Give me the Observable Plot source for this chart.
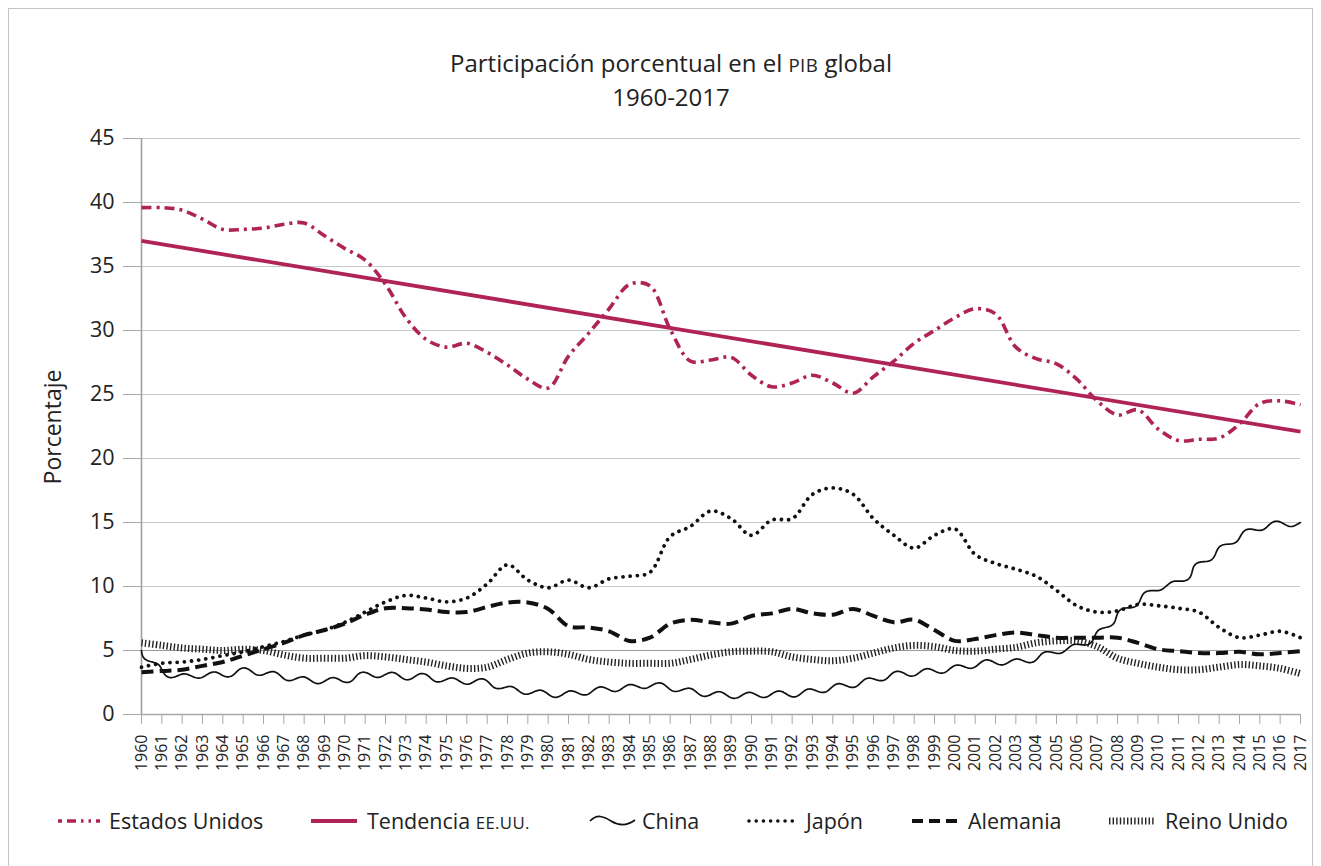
<!DOCTYPE html>
<html><head><meta charset="utf-8">
<script src="https://cdn.jsdelivr.net/npm/d3@7"></script>
<script src="https://cdn.jsdelivr.net/npm/@observablehq/plot@0.6"></script>
<style>
body{margin:0;background:#fff;font-family:"Open Sans",sans-serif;color:#222;}
#wrap{position:relative;width:1321px;height:866px;overflow:hidden;background:#fff;}
#frame{position:absolute;left:8px;top:8px;width:1305px;height:900px;border:1px solid #c4c4c4;box-sizing:border-box;}
#title{position:absolute;left:0;width:1342px;top:47px;text-align:center;font-size:24px;line-height:32px;color:#222;}
.sc{font-size:0.78em;letter-spacing:0.02em;}
#chart{position:absolute;left:0;top:120px;}
#ylab{position:absolute;left:52px;top:427px;transform:translate(-50%,-50%) rotate(-90deg);font-size:23px;white-space:nowrap;}
.sw{position:absolute;top:811px;}
.lt{position:absolute;top:806px;font-size:21.5px;line-height:30px;white-space:nowrap;}
</style></head>
<body>
<div id="wrap">
  <div id="frame"></div>
  <div id="title">Participación porcentual en el <span class="sc">PIB</span> global<br>1960-2017</div>
  <div id="ylab">Porcentaje</div>
  <div id="chart"></div>
  <div id="legend"></div>
</div>
<script>
// ---- data ----
const years = [1960,1961,1962,1963,1964,1965,1966,1967,1968,1969,1970,1971,1972,1973,1974,1975,1976,1977,1978,1979,1980,1981,1982,1983,1984,1985,1986,1987,1988,1989,1990,1991,1992,1993,1994,1995,1996,1997,1998,1999,2000,2001,2002,2003,2004,2005,2006,2007,2008,2009,2010,2011,2012,2013,2014,2015,2016,2017];
const estadosUnidos = [39.6,39.6,39.4,38.7,37.9,37.9,38.0,38.3,38.4,37.4, 36.4,35.5,33.6,31.0,29.3,28.7,29.0,28.3,27.3,26.2, 25.5,28.0,29.8,31.7,33.6,33.5,30.1,27.6,27.7,27.9, 26.5,25.6,25.9,26.5,25.9,25.1,26.4,27.6,29.0,30.0, 31.0,31.7,31.3,28.7,27.8,27.4,26.2,24.5,23.4,23.8, 22.3,21.4,21.5,21.6,22.7,24.3,24.5,24.2];
const china = [5.0,3.4,2.95,3.1,3.1,3.4,3.25,2.95,2.7,2.65, 2.7,3.1,3.1,2.95,2.95,2.65,2.6,2.5,2.0,1.8, 1.6,1.6,1.8,2.0,2.1,2.3,2.1,1.8,1.6,1.5, 1.5,1.6,1.6,1.8,2.1,2.35,2.7,3.1,3.25,3.4, 3.6,3.9,4.1,4.1,4.4,4.95,5.3,6.2,7.7,8.85, 9.9,10.3,11.65,12.8,13.9,14.6,14.9,14.9];
const japon = [3.7,4.0,4.1,4.3,4.6,4.9,5.3,5.7,6.2,6.6, 7.2,8.0,8.8,9.3,9.1,8.8,9.1,10.2,11.7,10.5, 9.9,10.5,9.9,10.6,10.8,11.1,13.9,14.7,15.9,15.3, 14.0,15.2,15.3,17.2,17.7,17.2,15.3,14.0,13.0,14.0, 14.5,12.5,11.8,11.35,10.8,9.7,8.5,8.0,8.1,8.6, 8.5,8.3,8.0,6.8,6.0,6.2,6.5,6.0];
const alemania = [3.3,3.4,3.5,3.8,4.1,4.6,5.1,5.6,6.2,6.6, 7.1,7.8,8.3,8.3,8.2,8.0,8.0,8.4,8.75,8.75, 8.25,6.9,6.8,6.5,5.75,6.0,7.1,7.4,7.2,7.1, 7.7,7.9,8.25,7.9,7.8,8.25,7.7,7.2,7.4,6.6, 5.75,5.9,6.2,6.4,6.2,6.0,6.0,6.0,6.0,5.6, 5.1,4.95,4.8,4.8,4.9,4.7,4.8,4.95];
const reinoUnido = [5.6,5.4,5.2,5.1,5.0,5.1,5.0,4.65,4.4,4.4, 4.4,4.6,4.5,4.3,4.1,3.8,3.6,3.7,4.3,4.8, 4.9,4.7,4.3,4.1,4.0,4.0,4.0,4.3,4.65,4.9, 4.95,4.9,4.5,4.3,4.2,4.4,4.8,5.2,5.4,5.3, 5.0,4.95,5.1,5.25,5.6,5.75,5.75,5.3,4.4,4.0, 3.7,3.5,3.5,3.7,3.9,3.8,3.6,3.2];
const tendenciaYears = [1960, 2017];
const tendenciaValues = [37.0, 22.1];
const yTicks = [0,5,10,15,20,25,30,35,40,45];

const PINK = "#b02356";
const rows = (vals, xs = years) => xs.map((y, i) => ({year: y, value: vals[i]}));

const chart = Plot.plot({
  width: 1321, height: 680,
  marginLeft: 141, marginRight: 21, marginTop: 18, marginBottom: 86,
  style: {fontFamily: '"Open Sans", sans-serif', color: "#222", background: "transparent", overflow: "visible"},
  x: {domain: [1960, 2017]},
  y: {domain: [0, 45]},
  marks: [
    Plot.gridY(yTicks, {stroke: "#c9c9c9", strokeOpacity: 1, strokeWidth: 1}),
    Plot.ruleY([5], {stroke: "#9a9a9a", strokeWidth: 1.2}),
    Plot.axisY({ticks: yTicks, tickSize: 18, tickPadding: 9, fontSize: 21.5, stroke: "#a8a8a8", strokeOpacity: 1, label: null, tickFormat: d => String(d)}),
    Plot.axisX({ticks: years, tickSize: 10, tickPadding: 10, tickRotate: -90, fontSize: 16, stroke: "#a8a8a8", strokeOpacity: 1, label: null, tickFormat: d => String(d)}),
    Plot.ruleX([1960], {stroke: "#a0a0a0", strokeWidth: 1.6}),
    Plot.ruleY([0], {stroke: "#a8a8a8", strokeWidth: 1.6}),
    Plot.line(rows(reinoUnido), {x: "year", y: "value", curve: "catmull-rom", stroke: "#222", strokeWidth: 7, strokeLinecap: "butt", strokeDasharray: "1.4,2.2"}),
    Plot.line(rows(alemania), {x: "year", y: "value", curve: "catmull-rom", stroke: "#111", strokeWidth: 4, strokeLinecap: "butt", strokeDasharray: "12,6"}),
    Plot.line(rows(japon), {x: "year", y: "value", curve: "catmull-rom", stroke: "#111", strokeWidth: 3.8, strokeLinecap: "round", strokeDasharray: "0.01,7.2"}),
    Plot.line(rows(china), {x: "year", y: "value", curve: "catmull-rom", stroke: "#111", strokeWidth: 1.7, className: "china-wave"}),
    Plot.line(rows(estadosUnidos), {x: "year", y: "value", curve: "catmull-rom", stroke: PINK, strokeWidth: 3.6, strokeLinecap: "butt", strokeDasharray: "10,5,3,5"}),
    Plot.line(rows(tendenciaValues, tendenciaYears), {x: "year", y: "value", stroke: PINK, strokeWidth: 3.8, strokeLinecap: "butt"})
  ]
});
document.getElementById("chart").appendChild(chart);

// wavy line style for China (style only; the path itself comes from the data through Plot's scales)
function wavify(path, amp, wl) {
  const L = path.getTotalLength();
  const pts = [];
  for (let s = 0; s <= L; s += 1) {
    const p = path.getPointAtLength(s);
    const a = path.getPointAtLength(Math.max(0, s - 1.5));
    const b = path.getPointAtLength(Math.min(L, s + 1.5));
    const dx = b.x - a.x, dy = b.y - a.y, n = Math.hypot(dx, dy) || 1;
    const o = amp * Math.sin(2 * Math.PI * s / wl);
    pts.push([p.x - dy / n * o, p.y + dx / n * o]);
  }
  path.setAttribute("d", "M" + pts.map(p => p[0].toFixed(2) + "," + p[1].toFixed(2)).join("L"));
}
chart.querySelectorAll(".china-wave path").forEach(p => wavify(p, 3, 30));

// ---- legend ----
const legend = [
  {name: "Estados Unidos", sx: 58, sw: 42, tx: 109, kind: "us"},
  {name: "Tendencia <span class='sc'>EE.UU.</span>", sx: 311, sw: 46, tx: 367, kind: "trend"},
  {name: "China", sx: 589, sw: 47, tx: 642, kind: "china"},
  {name: "Japón", sx: 746, sw: 50, tx: 806, kind: "jp"},
  {name: "Alemania", sx: 912, sw: 46, tx: 968, kind: "de"},
  {name: "Reino Unido", sx: 1109, sw: 46, tx: 1165, kind: "uk"}
];
const lg = document.getElementById("legend");
for (const it of legend) {
  const ns = "http://www.w3.org/2000/svg";
  const s = document.createElementNS(ns, "svg");
  s.setAttribute("class", "sw");
  s.setAttribute("width", it.sw); s.setAttribute("height", 20);
  s.style.left = it.sx + "px";
  let el;
  if (it.kind === "china") {
    el = document.createElementNS(ns, "path");
    el.setAttribute("d", `M1,10 C8,3 14,5 22,10 C30,15 38,15 ${it.sw - 1},9`);
    el.setAttribute("fill", "none"); el.setAttribute("stroke", "#111"); el.setAttribute("stroke-width", 1.7);
  } else {
    el = document.createElementNS(ns, "line");
    el.setAttribute("x1", 0); el.setAttribute("x2", it.sw); el.setAttribute("y1", 10); el.setAttribute("y2", 10);
    const st = {
      us: [PINK, 3.6, "4,5,9,5,2.5,5,2.5,5", "butt"],
      trend: [PINK, 3.8, null, "butt"],
      jp: ["#111", 3.6, "0.01,7.2", "round"],
      de: ["#111", 4, "11,6", "butt"],
      uk: ["#222", 7, "1.4,2.2", "butt"]
    }[it.kind];
    el.setAttribute("stroke", st[0]); el.setAttribute("stroke-width", st[1]);
    if (st[2]) el.setAttribute("stroke-dasharray", st[2]);
    el.setAttribute("stroke-linecap", st[3]);
    if (it.kind === "jp") { el.setAttribute("x1", 3); el.setAttribute("x2", it.sw - 2); }
  }
  s.appendChild(el);
  lg.appendChild(s);
  const t = document.createElement("div");
  t.className = "lt"; t.style.left = it.tx + "px"; t.innerHTML = it.name;
  lg.appendChild(t);
}
</script>
</body></html>
